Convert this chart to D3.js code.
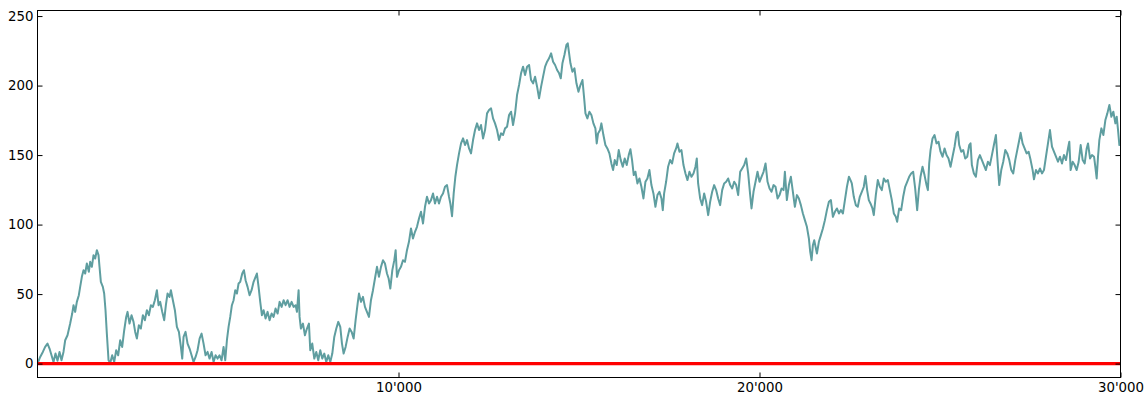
<!DOCTYPE html>
<html>
<head>
<meta charset="utf-8">
<script src="https://cdn.jsdelivr.net/npm/d3@7"></script>
<style>
  html, body { margin: 0; padding: 0; background: #fff; }
  svg { display: block; }
  text { font-family: "DejaVu Sans", sans-serif; font-size: 13.33px; fill: #000; }
</style>
</head>
<body>
<svg id="chart" width="1146" height="394"></svg>
<script>
// Queue length over time: [step, length] samples.
const queueLength = [
  [0,0],[74,4.8],[148,8.4],[212,12],[277,14.4],[333,10.8],[388,6],[443,1.2],[499,7.2],[554,2],
  [610,8.4],[665,2.4],[720,8.4],[767,16.8],[831,20.4],[905,28.8],[961,36],[998,42],[1044,37.2],[1090,44.4],
  [1145,49.2],[1182,55.2],[1229,62.4],[1275,67.2],[1321,64.8],[1367,72],[1422,66],[1459,73.2],[1506,69.6],[1552,78],
  [1598,75.6],[1644,81.6],[1690,78],[1718,69.6],[1755,58.8],[1810,55.2],[1847,50.4],[1884,38.4],[1921,21.6],[1968,2.4],
  [2014,0.5],[2069,6],[2125,1.2],[2180,9.6],[2235,6],[2291,16.8],[2346,12],[2402,24],[2457,33.6],[2494,37.2],
  [2549,28.8],[2605,34.8],[2660,30],[2706,22.8],[2753,18],[2808,27.6],[2863,25.2],[2919,34.8],[2974,31.2],[3030,38.4],
  [3085,34.8],[3141,42],[3196,40.8],[3251,45.6],[3307,52.8],[3353,42],[3399,44.4],[3455,37.2],[3510,31.2],[3556,42],
  [3602,50.4],[3658,48],[3695,52.8],[3750,45.6],[3806,38.4],[3861,26.4],[3917,22.8],[3972,12],[4009,3.6],[4046,19.2],
  [4101,22.8],[4157,14.4],[4212,10.8],[4268,6],[4323,1.2],[4379,4.8],[4434,9.6],[4490,18],[4545,21.6],[4600,14.4],
  [4655,6],[4711,8.4],[4766,3.6],[4822,8.4],[4877,1.2],[4933,6],[4988,3.6],[5043,6],[5099,2.4],[5154,12],
  [5201,2.4],[5247,16.8],[5293,26.4],[5339,33.6],[5385,42],[5432,45.6],[5478,52.8],[5524,50.4],[5570,57.6],[5616,58.8],
  [5672,64.8],[5718,67.2],[5764,60],[5819,55.2],[5875,49.2],[5930,52.8],[5986,58.8],[6041,62.4],[6078,64.8],[6124,55.2],
  [6170,44.4],[6216,34.8],[6263,38.4],[6318,32.4],[6374,37.2],[6429,31.2],[6485,36],[6540,33.6],[6595,39.6],[6651,36],
  [6706,44.4],[6762,40.8],[6817,45.6],[6872,42],[6928,45.6],[6983,40.8],[7039,44.4],[7094,40.8],[7150,42],[7187,37.2],
  [7233,52.8],[7260,33.6],[7297,25.2],[7353,28.8],[7408,20.4],[7464,25.2],[7519,28.8],
  [7556,9.6],[7611,14.4],[7667,3.6],[7722,8.4],[7777,2.4],[7833,9.6],[7888,3.6],[7944,7.2],[7999,1.2],[8055,6],
  [8110,1.2],[8166,7.2],[8221,19.2],[8277,25.2],[8332,30],[8387,26.4],[8434,14.4],[8480,7.2],[8535,12],[8591,19.2],
  [8646,25.2],[8702,22.8],[8757,18],[8812,31.2],[8868,43.2],[8905,50.4],[8960,44.4],[9016,48],[9071,40.8],[9126,37.2],
  [9182,33.6],[9237,45.6],[9293,52.8],[9348,61.2],[9404,69.6],[9459,62.4],[9515,69.6],[9570,74.4],[9625,72],[9681,64.8],
  [9727,61.2],[9773,54],[9829,67.2],[9884,74.4],[9921,81.6],[9958,62.4],[10013,67.2],[10068,69.6],[10124,74.4],[10179,73.2],
  [10235,81.6],[10290,87.6],[10346,97.2],[10401,90],[10457,94.8],[10512,98.4],[10568,104.4],[10623,109.2],[10679,100.8],[10734,112.8],
  [10789,120],[10845,115.2],[10900,117.6],[10956,122.4],[11011,115.2],[11067,120],[11122,115.2],[11178,120],[11233,122.4],[11288,127.2],
  [11344,128.4],[11399,120],[11436,115.2],[11483,106],[11529,122.4],[11575,134.4],[11621,142.8],[11677,151.2],[11732,158.4],[11788,162],
  [11843,157.2],[11898,160.8],[11954,154.8],[12009,151.2],[12065,160.8],[12120,168],[12176,172.8],[12231,168],[12286,171.6],[12342,162],
  [12397,168],[12453,180],[12508,182.4],[12564,183.6],[12619,176.4],[12674,172.8],[12730,168],[12785,160.8],[12841,165.6],[12896,164.4],
  [12952,169.2],[13007,170.4],[13063,178.8],[13118,181.2],[13173,171.6],[13229,180],[13284,193.2],[13340,200.4],[13395,208.8],[13451,213.6],
  [13506,207.6],[13562,213.6],[13617,214.8],[13672,204],[13728,201.6],[13783,206.4],[13839,199.2],[13894,190.8],[13950,199.2],[14005,206.4],
  [14061,213.6],[14116,217.2],[14171,219.6],[14227,223.2],[14282,217.2],[14338,214.8],[14393,211.2],[14449,208.8],[14495,205.2],[14541,216],
  [14596,222],[14652,229.2],[14689,230.4],[14726,223.2],[14763,216],[14818,210],[14874,212.4],[14929,201.6],[14985,195.6],[15040,200.4],
  [15096,204],[15151,188.4],[15179,180],
  [15232,176.4],[15288,181.2],[15343,178.8],[15399,172.8],[15454,169.2],[15491,158.4],[15528,165.6],[15583,168],[15620,172.8],[15676,164.4],
  [15731,157.2],[15786,154.8],[15842,151.2],[15897,144],[15944,139.2],[15990,146.4],[16045,142.8],[16101,153.6],[16156,146.4],[16212,141.6],
  [16267,147.6],[16322,142.8],[16378,150],[16424,154.2],[16470,146.4],[16517,135.6],[16563,138],[16618,129.6],[16674,133.2],[16729,127.2],
  [16785,118.8],[16840,130.8],[16895,133.2],[16951,139.2],[17006,128.4],[17062,122.4],[17117,112.8],[17173,121.2],[17228,123.6],[17284,118.8],
  [17321,110.4],[17358,122.4],[17413,130.8],[17468,141.6],[17524,146.4],[17579,144],[17635,151.2],[17690,154.8],[17727,158.4],[17783,152.4],
  [17838,153.6],[17894,142.8],[17949,136.8],[18005,132],[18060,138],[18116,134.4],[18171,136.8],[18226,141.6],[18263,147.6],[18300,129.6],
  [18356,118.8],[18411,114],[18467,122.4],[18522,116.4],[18578,106.8],[18633,116.4],[18689,123.6],[18744,128.4],[18799,124.8],[18855,118.8],
  [18910,114],[18966,124.8],[19021,129.6],[19077,130.8],[19132,133.2],[19188,128.4],[19243,126],[19298,130.8],[19354,128.4],[19409,121.2],
  [19465,138],[19520,140.4],[19576,142.8],[19631,147.6],[19686,136.8],[19742,121.2],[19779,111.6],[19834,123.6],[19890,130.8],[19945,138],
  [20001,130.8],[20056,134.4],[20112,138],[20167,144],[20223,130.8],[20278,126],[20333,123.6],[20389,128.4],[20444,127.2],[20500,118.8],
  [20555,121.2],[20611,126],[20666,124.8],[20703,138],[20758,117.6],[20814,128.4],[20869,134.4],[20925,123.6],[20980,112.8],[21036,121.2],
  [21091,118.8],[21146,114],[21202,108],[21257,103.2],[21313,98.4],[21368,90],[21405,80.4],[21442,74.4],[21479,85.2],[21516,88.8],
  [21553,84],[21590,79.2],[21645,87.6],[21701,92.4],[21756,97.2],[21812,103.2],[21867,110.4],[21923,116.4],[21978,117.6],[22033,105.6],
  [22089,109.2],[22144,111.6],[22200,108],[22255,110.4],[22311,108],[22366,117.6],[22422,127.2],[22477,134.4],[22533,131.2],
  [22557,129.6],[22612,120],[22668,114],[22723,112.8],[22778,120],[22834,123.6],[22889,127.2],[22935,135],[22982,124.8],[23028,117.6],
  [23074,115.2],[23129,111.6],[23166,106.8],[23222,121.2],[23277,132],[23333,127.2],[23388,124.8],[23444,133.2],[23499,130.8],[23555,132],
  [23610,124.8],[23665,117.6],[23721,108],[23776,105.6],[23813,102],[23869,111.6],[23924,110.4],[23980,120],[24035,127.2],[24091,130.8],
  [24146,134.4],[24201,136.8],[24257,138],[24312,126],[24368,110.4],[24414,124.8],[24460,134.4],[24516,141.6],[24571,135.6],[24627,128.4],
  [24664,124.8],[24701,144],[24738,153.6],[24793,162],[24848,164.4],[24904,158.4],[24959,159.6],[25015,152.4],[25070,148.8],[25126,154.8],
  [25181,150],[25236,147.6],[25292,141.6],[25347,148.8],[25403,156],[25458,165.6],[25495,166.8],[25532,157.2],[25588,152.4],[25643,153.6],
  [25699,147.6],[25754,148.8],[25809,157.2],[25846,158.4],[25883,142.8],[25939,136.8],[25994,134.4],[26050,146.4],[26105,150],[26161,146.4],
  [26216,142.8],[26271,139.2],[26327,145.2],[26382,142.8],[26438,150],[26493,157.2],[26549,164.4],[26586,148.8],[26641,128.4],[26697,139.2],
  [26752,145.2],[26808,153.6],[26863,151.2],[26919,146.4],[26974,139.2],[27029,136.8],[27085,146.4],[27140,153.6],[27196,160.8],[27233,166],
  [27288,158.4],[27344,154.8],[27399,151.2],[27455,152.4],[27510,146.4],[27566,139.2],[27603,132.6],[27658,139.2],[27714,136.8],[27769,140.4],
  [27825,136.8],[27880,139.2],[27935,148.8],[27991,158.4],[28046,168],[28102,156],[28157,152.4],[28213,148.8],[28268,145.2],[28324,148.8],
  [28379,144],[28434,150],[28490,146.4],[28545,154.8],[28582,159.6],[28619,139.2],[28675,145.2],[28730,142.8],[28786,139.2],[28841,145.2],
  [28897,157.2],[28952,146.4],[29008,144],[29063,154.8],[29100,158.4],[29156,147.6],[29211,150],[29267,148.8],[29303,141.6],[29340,133.2],
  [29377,148.8],[29414,160.8],[29470,169.2],[29525,164.4],[29581,175.2],[29636,180],[29692,186],[29747,177.6],[29802,181.2],[29858,172.8],
  [29895,177.6],[29932,168],[29969,157.2],[30000,160]
];

// Axis ranges and ticks
const stepDomain = [0, 30000];
const lengthDomain = [-10, 254];
const xTicks = [10000, 20000, 30000];
const yTicks = [0, 50, 100, 150, 200, 250];
const baselineLevel = 0;

const svg = d3.select("#chart");
const box = { left: 37.5, right: 1120.5, top: 10.5, bottom: 377.5 };

const x = d3.scaleLinear().domain(stepDomain).range([box.left, box.right]);
const y = d3.scaleLinear().domain(lengthDomain).range([box.bottom, box.top]);

// Thousands separated by an apostrophe: 10'000
const fmt = d3.formatLocale({ decimal: ".", thousands: "'", grouping: [3], currency: ["", ""] }).format(",");

// Clip the data to the plot box
svg.append("clipPath").attr("id", "plot-clip")
  .append("rect").attr("x", box.left).attr("y", box.top)
  .attr("width", box.right - box.left).attr("height", box.bottom - box.top);

const plot = svg.append("g").attr("clip-path", "url(#plot-clip)");

const line = d3.line()
  .x(d => x(d[0]))
  .y(d => y(d[1]));

plot.append("path")
  .datum(queueLength)
  .attr("fill", "none")
  .attr("stroke", "#5f9ea0")
  .attr("stroke-width", 2)
  .attr("stroke-linejoin", "round")
  .attr("d", line);

// Zero baseline in red, on top of the series
plot.append("line")
  .attr("x1", x(stepDomain[0])).attr("x2", x(stepDomain[1]))
  .attr("y1", y(baselineLevel)).attr("y2", y(baselineLevel))
  .attr("stroke", "#ff0000")
  .attr("stroke-width", 3.3);

// Inward ticks on all four sides
const tickLen = 5;

const gLeft = svg.append("g").attr("transform", `translate(${box.left},0)`)
  .call(d3.axisLeft(y).tickValues(yTicks).tickSize(-tickLen).tickPadding(4).tickFormat(d3.format("d")));
const gRight = svg.append("g").attr("transform", `translate(${box.right},0)`)
  .call(d3.axisRight(y).tickValues(yTicks).tickSize(-tickLen).tickFormat(""));
const gBottom = svg.append("g").attr("transform", `translate(0,${box.bottom})`)
  .call(d3.axisBottom(x).tickValues(xTicks).tickSize(-tickLen).tickPadding(5.5).tickFormat(fmt));
const gTop = svg.append("g").attr("transform", `translate(0,${box.top})`)
  .call(d3.axisTop(x).tickValues(xTicks).tickSize(-tickLen).tickFormat(""));

[gLeft, gRight, gBottom, gTop].forEach(g => {
  g.select(".domain").remove();
  g.selectAll(".tick line").attr("stroke", "#000").attr("stroke-width", 1);
  g.selectAll("text").attr("font-family", "DejaVu Sans, sans-serif").attr("font-size", "13.33px").attr("fill", "#000");
});

// Frame
svg.append("rect")
  .attr("x", box.left).attr("y", box.top)
  .attr("width", box.right - box.left).attr("height", box.bottom - box.top)
  .attr("fill", "none")
  .attr("stroke", "#000")
  .attr("stroke-width", 1);
</script>
</body>
</html>
